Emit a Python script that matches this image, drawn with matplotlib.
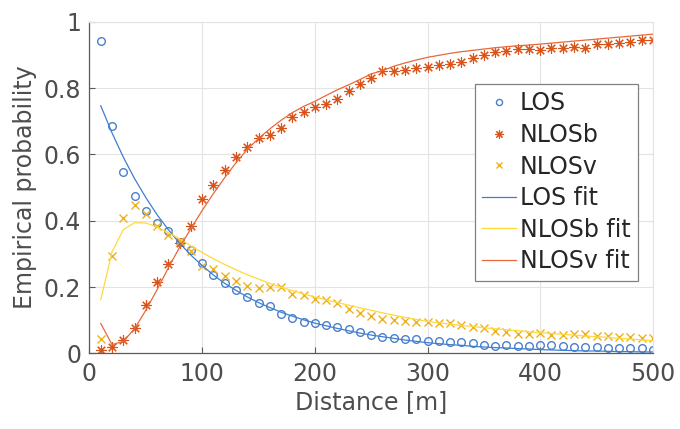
import matplotlib
matplotlib.use("Agg")
import matplotlib.pyplot as plt
import numpy as np

# distance bins [m]
dist = np.arange(10, 510, 10)

# empirical probabilities
los = [0.942, 0.687, 0.547, 0.475, 0.430, 0.394, 0.369, 0.337, 0.311, 0.271,
       0.237, 0.213, 0.191, 0.170, 0.152, 0.143, 0.120, 0.105, 0.095, 0.092,
       0.085, 0.080, 0.073, 0.064, 0.054, 0.049, 0.046, 0.044, 0.044, 0.038,
       0.036, 0.035, 0.035, 0.030, 0.025, 0.022, 0.025, 0.022, 0.022, 0.025,
       0.025, 0.022, 0.020, 0.020, 0.018, 0.015, 0.015, 0.015, 0.015, 0.010]
nlosb = [0.011, 0.019, 0.039, 0.076, 0.145, 0.215, 0.268, 0.334, 0.384, 0.465,
         0.509, 0.552, 0.592, 0.622, 0.651, 0.658, 0.680, 0.713, 0.728, 0.743,
         0.753, 0.766, 0.790, 0.814, 0.832, 0.851, 0.851, 0.856, 0.862, 0.863,
         0.869, 0.874, 0.879, 0.891, 0.901, 0.909, 0.912, 0.919, 0.919, 0.916,
         0.921, 0.921, 0.923, 0.921, 0.934, 0.934, 0.937, 0.939, 0.946, 0.944]
nlosv = [0.043, 0.293, 0.409, 0.447, 0.421, 0.385, 0.358, 0.339, 0.310, 0.263,
         0.254, 0.232, 0.217, 0.203, 0.196, 0.199, 0.199, 0.180, 0.175, 0.165,
         0.160, 0.152, 0.135, 0.122, 0.112, 0.102, 0.100, 0.097, 0.094, 0.095,
         0.090, 0.090, 0.085, 0.078, 0.075, 0.067, 0.065, 0.058, 0.058, 0.060,
         0.055, 0.055, 0.058, 0.058, 0.052, 0.052, 0.050, 0.048, 0.045, 0.045]

# fitted curves (same distance grid)
los_fit = [0.747, 0.665, 0.592, 0.527, 0.470, 0.418, 0.373, 0.332, 0.296, 0.265,
           0.236, 0.211, 0.190, 0.170, 0.153, 0.138, 0.124, 0.112, 0.101, 0.091,
           0.083, 0.075, 0.068, 0.061, 0.055, 0.050, 0.045, 0.040, 0.036, 0.032,
           0.029, 0.026, 0.024, 0.021, 0.019, 0.017, 0.016, 0.014, 0.013, 0.011,
           0.010, 0.009, 0.008, 0.007, 0.007, 0.006, 0.005, 0.005, 0.004, 0.004]
nlosb_fit = [0.162, 0.306, 0.373, 0.394, 0.393, 0.381, 0.364, 0.345, 0.324, 0.304,
             0.285, 0.268, 0.252, 0.237, 0.224, 0.211, 0.199, 0.189, 0.179, 0.170,
             0.161, 0.153, 0.145, 0.137, 0.130, 0.122, 0.115, 0.108, 0.102, 0.096,
             0.092, 0.088, 0.084, 0.081, 0.077, 0.074, 0.071, 0.068, 0.065, 0.062,
             0.060, 0.057, 0.055, 0.052, 0.050, 0.048, 0.045, 0.043, 0.040, 0.038]
nlosv_fit = [0.090, 0.026, 0.036, 0.074, 0.130, 0.192, 0.258, 0.320, 0.376, 0.431,
             0.482, 0.530, 0.575, 0.615, 0.648, 0.677, 0.703, 0.726, 0.745, 0.760,
             0.778, 0.795, 0.810, 0.826, 0.843, 0.853, 0.866, 0.876, 0.885, 0.893,
             0.899, 0.905, 0.910, 0.914, 0.918, 0.922, 0.925, 0.928, 0.930, 0.933,
             0.936, 0.939, 0.942, 0.945, 0.948, 0.951, 0.954, 0.957, 0.960, 0.963]

xticks = [0, 100, 200, 300, 400, 500]
yticks = [0, 0.2, 0.4, 0.6, 0.8, 1]
ytlabels = ["0", "0.2", "0.4", "0.6", "0.8", "1"]

c_blue = "#4a7fcc"
c_red = "#d95319"
c_yel = "#edb120"
c_blue_l = "#3f7fcf"
c_yel_l = "#ffd93a"
c_red_l = "#e8683a"

plt.rcParams["font.family"] = ["DejaVu Sans"]

f = plt.figure(figsize=(6.8, 4.29), dpi=100)
ax = f.add_axes([0.1316, 0.1765, 0.8285, 0.7725])

ax.plot(dist, los, "o", mfc="none", mec=c_blue, ms=5.5, mew=1.0, label="LOS")
ax.plot(dist, nlosb, ls="none", marker=(8, 2, 0), color=c_red, ms=7.5, mew=0.8, label="NLOSb")
ax.plot(dist, nlosv, "x", color=c_yel, ms=5.5, mew=1.0, label="NLOSv")
ax.plot(dist, los_fit, "-", color=c_blue_l, lw=0.9, label="LOS fit")
ax.plot(dist, nlosb_fit, "-", color=c_yel_l, lw=0.9, label="NLOSb fit")
ax.plot(dist, nlosv_fit, "-", color=c_red_l, lw=0.9, label="NLOSv fit")

ax.set_xlim(0, 500)
ax.set_ylim(0, 1)
ax.set_xticks(xticks)
ax.set_yticks(yticks)
ax.set_yticklabels(ytlabels)
ax.grid(True, color="#e3e3e3", lw=0.8)
ax.set_axisbelow(True)
for s in ["top", "right"]:
    ax.spines[s].set_color("#e3e3e3")
    ax.spines[s].set_linewidth(0.8)
for s in ["left", "bottom"]:
    ax.spines[s].set_color("#5a5a5a")
    ax.spines[s].set_linewidth(0.9)
ax.tick_params(direction="in", length=4, width=0.8, color="#5a5a5a",
               labelsize=17, labelcolor="#4d4d4d", pad=6)
ax.set_xlabel("Distance [m]", fontsize=17, color="#4d4d4d", labelpad=3)
ax.set_ylabel("Empirical probability", fontsize=17, color="#4d4d4d", labelpad=5)

leg = ax.legend(loc="upper left", bbox_to_anchor=(0.6835, 0.813), fontsize=17,
                frameon=True, fancybox=False, edgecolor="#808080", framealpha=1,
                handlelength=1.45, handletextpad=0.15, labelspacing=0.32,
                borderpad=0.32, borderaxespad=0, markerscale=0.8)
leg.get_frame().set_linewidth(0.9)
for t in leg.get_texts():
    t.set_color("#262626")

f.savefig("out.png", dpi=100)
